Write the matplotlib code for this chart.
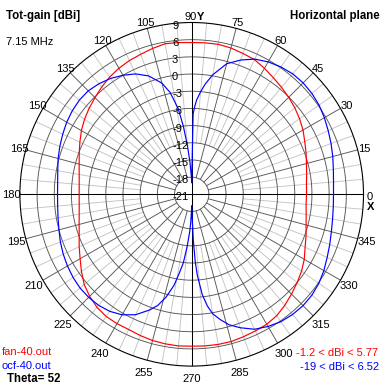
import numpy as np
import matplotlib
matplotlib.use("Agg")
import matplotlib.pyplot as plt
from matplotlib.transforms import offset_copy

# ---------------- data ----------------
ring_values = [9, 6, 3, 0, -3, -6, -9, -12, -15, -18, -21]
angle_labels = list(range(0, 360, 15))

red_angles = list(range(0, 360, 5))
red_db = [-0.95, -0.88, -0.62, -0.25, 0.25, 0.78, 1.45, 2.0, 2.5, 2.95, 3.4, 3.85,
          4.4, 4.95, 5.17, 5.45, 5.6, 5.55,
          5.5, 5.6, 5.7, 5.37, 5.02, 4.76, 4.42, 3.99, 3.46, 2.88, 2.38, 1.85,
          1.24, 0.55, -0.1, -0.65, -1.05, -1.28,
          -1.35, -1.28, -1.05, -0.65, -0.09, 0.68, 1.5, 2.5, 3.5, 4.2, 4.75, 5.04,
          5.08, 5.05, 5.25, 5.43, 5.52, 5.58,
          5.52, 5.58, 5.62, 5.62, 5.46, 5.33, 5.2, 4.88, 4.3, 3.65, 3.02, 2.42,
          1.7, 0.85, 0.25, -0.32, -0.7, -0.95]

blue_angles = [0, 5, 10, 15, 20, 25, 30, 35, 40, 45, 50, 55, 60, 65, 70, 75, 80, 83, 85, 87,
               88, 89, 90, 91, 93, 95, 97, 99, 102, 105, 110, 115, 120, 125, 130, 135, 140,
               145, 150, 155, 160, 165, 170, 175, 180, 185, 190, 195, 200, 205, 210, 215,
               220, 225, 230, 235, 240, 245, 250, 253, 256, 259, 261, 263, 265, 267, 268,
               269, 270, 271, 272, 273, 274, 276, 278, 280, 283, 286, 290, 295, 300, 305,
               310, 315, 320, 325, 330, 335, 340, 345, 350, 355]
blue_db = [3.76, 3.86, 4.12, 4.5, 4.9, 5.3, 5.75, 6.15, 6.4, 6.52, 6.45, 6.15, 5.7, 5.05,
           3.95, 2.6, 0.2, -1.6, -3.0, -4.5, -5.6, -7.0, -19.0, -18.0, -15.5, -12.5, -9.0,
           -5.8, -2.8, -0.9, 1.0, 2.2, 3.0, 3.7, 4.2, 4.55, 4.6, 4.45, 4.2, 3.85, 3.5, 3.15,
           2.75, 2.5, 2.43, 2.5, 2.7, 3.0, 3.4, 3.75, 4.05, 4.3, 4.45, 4.45, 4.3, 3.95, 3.3,
           2.2, 0.5, -0.7, -2.5, -4.8, -7.0, -8.9, -11.8, -14.5, -16.0, -17.8, -19.0, -17.5,
           -13.0, -9.2, -6.8, -3.4, -1.3, 0.2, 1.5, 2.7, 3.8, 5.0, 5.65, 6.15, 6.4, 6.5, 6.4,
           6.1, 5.65, 5.1, 4.65, 4.25, 3.98, 3.82]

series_names = ["fan-40.out", "ocf-40.out"]
series_ranges = ["-1.2 < dBi < 5.77", "-19 < dBi < 6.52"]

# ---------------- layout ----------------
W, H = 383, 386
CX, CY, R = 191.7, 194.3, 171.8
RMIN, RMAX = -21, 9
RED, BLUE = "#ff0000", "#0000ff"
DARK, LIGHT = "#555555", "#c4c4c4"
FONT = "Liberation Sans"
FS = 8

plt.rcParams["font.family"] = [FONT, "DejaVu Sans"]

fig = plt.figure(figsize=(W / 100, H / 100), dpi=100)
fig.patch.set_facecolor("white")
ax = fig.add_axes([(CX - R) / W, (H - CY - R) / H, 2 * R / W, 2 * R / H],
                  projection="polar")
ax.set_theta_zero_location("E")
ax.set_theta_direction(1)
ax.set_rlim(RMIN, RMAX)
ax.set_xticks([])
ax.set_yticks([])
ax.grid(False)
ax.spines["polar"].set_color("black")
ax.spines["polar"].set_linewidth(0.8)

lw = 0.65
full = np.linspace(0, 2 * np.pi, 721)

# light spokes (every 5 deg)
for a in range(0, 360, 5):
    if a % 15:
        ax.plot([np.deg2rad(a)] * 2, [-12, RMAX], color=LIGHT, lw=lw, zorder=1)
# rings
for v in ring_values[1:-1]:
    ax.plot(full, [v] * len(full), color=DARK, lw=lw, zorder=2)
# dark spokes (every 15 deg)
for a in range(0, 360, 15):
    ax.plot([np.deg2rad(a)] * 2, [-18, RMAX], color=DARK, lw=lw, zorder=2)
# axes (black diameters)
for a in (0, 90, 180, 270):
    ax.plot([np.deg2rad(a)] * 2, [RMIN, RMAX], color="black", lw=0.75, zorder=3)

# curves
ra = np.deg2rad(red_angles + [red_angles[0]])
ax.plot(ra, red_db + [red_db[0]], color=RED, lw=0.85, zorder=5)
ba = np.deg2rad(blue_angles + [blue_angles[0]])
ax.plot(ba, blue_db + [blue_db[0]], color=BLUE, lw=0.85, zorder=6)

# ring labels on the vertical axis
for v in ring_values:
    tr = offset_copy(ax.transData, fig=fig, x=-19.7, y=-6, units="dots")
    ax.text(np.pi / 2, v, str(v), transform=tr, ha="left", va="baseline",
            fontsize=FS, clip_on=False, zorder=7)

# angle labels
for a in angle_labels:
    th = np.deg2rad(a)
    if a == 0:
        tr = offset_copy(ax.transData, fig=fig, x=6.2, y=-5.7, units="dots")
        ax.text(th, RMAX, "0", transform=tr, ha="center", va="baseline",
                fontsize=FS, clip_on=False)
        tr = offset_copy(ax.transData, fig=fig, x=6.8, y=-15.7, units="dots")
        ax.text(th, RMAX, "X", transform=tr, ha="center", va="baseline",
                fontsize=FS, fontweight="bold", clip_on=False)
        continue
    if a == 90:
        tr = offset_copy(ax.transData, fig=fig, x=-0.7, y=2.5, units="dots")
        ax.text(th, RMAX, "90", transform=tr, ha="center", va="baseline",
                fontsize=FS, clip_on=False)
        tr = offset_copy(ax.transData, fig=fig, x=5.3, y=2.5, units="dots")
        ax.text(th, RMAX, "Y", transform=tr, ha="left", va="baseline",
                fontsize=FS, fontweight="bold", clip_on=False)
        continue
    if a < 180:
        d = 178.6
    else:
        d = 180 + 4 * abs(np.sin(th))
    dx = (d - R) * np.cos(th)
    dy = (d - R) * np.sin(th) - 4
    tr = offset_copy(ax.transData, fig=fig, x=dx, y=dy, units="dots")
    ax.text(th, RMAX, str(a), transform=tr, ha="center", va="baseline",
            fontsize=FS, clip_on=False)


def px(x, y):
    return x / W, 1 - y / H


fig.text(*px(6, 18.5), "Tot-gain [dBi]", fontsize=8.3, fontweight="bold",
         ha="left", va="baseline")
fig.text(*px(6, 45), "7.15 MHz", fontsize=FS, ha="left", va="baseline")
fig.text(*px(379.5, 18.5), "Horizontal plane", fontsize=8.3, fontweight="bold",
         ha="right", va="baseline")
fig.text(*px(2, 355), series_names[0], fontsize=FS, color=RED, ha="left", va="baseline")
fig.text(*px(2, 369), series_names[1], fontsize=FS, color=BLUE, ha="left", va="baseline")
fig.text(*px(6.5, 382.5), "Theta= 52", fontsize=8.3, fontweight="bold",
         ha="left", va="baseline")
fig.text(*px(378.5, 356.5), series_ranges[0], fontsize=FS, color=RED,
         ha="right", va="baseline")
fig.text(*px(379.5, 370), series_ranges[1], fontsize=FS, color=BLUE,
         ha="right", va="baseline")

fig.savefig("out.png", dpi=100, facecolor="white")
